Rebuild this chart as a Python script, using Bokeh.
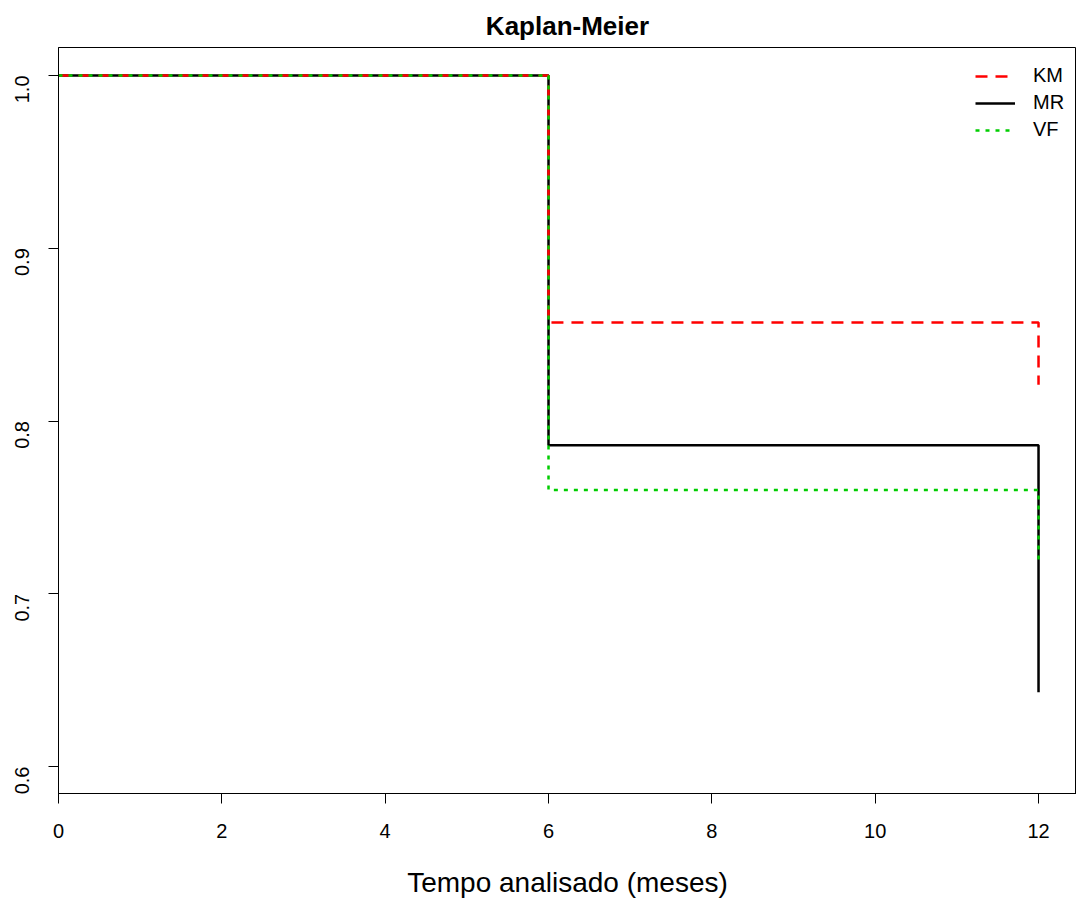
import math
from bokeh.plotting import figure
from bokeh.models import Range1d, FixedTicker, Legend, LegendItem
from bokeh.embed import file_html
from bokeh.resources import INLINE

# Data
times = [0, 6, 12]
km_surv = [1.0, 0.857, 0.821]
mr_surv = [1.0, 0.786, 0.643]
vf_surv = [1.0, 0.760, 0.719]
series_names = ["KM", "MR", "VF"]
x_ticks = [0, 2, 4, 6, 8, 10, 12]
y_ticks = [0.6, 0.7, 0.8, 0.9, 1.0]
y_tick_labels = ["0.6", "0.7", "0.8", "0.9", "1.0"]
title_text = "Kaplan-Meier"
x_label = "Tempo analisado (meses)"


def step_path(t, s):
    xs, ys = [t[0]], [s[0]]
    for i in range(1, len(t)):
        xs += [t[i], t[i]]
        ys += [s[i - 1], s[i]]
    return xs, ys


FONT = "Liberation Sans"

p = figure(width=1076, height=900, output_backend="svg", toolbar_location=None,
           x_range=Range1d(0, 12.465), y_range=Range1d(0.5844, 1.0162),
           min_border_left=58, min_border_right=0, min_border_top=47,
           min_border_bottom=107)

p.title.text = title_text
p.title.align = "center"
p.title.text_font = FONT
p.title.text_font_size = "26px"
p.title.text_font_style = "bold"
p.title.text_color = "black"
p.title.standoff = 14

p.grid.visible = False
p.outline_line_color = "black"
p.outline_line_width = 1
p.background_fill_color = "white"
p.border_fill_color = "white"

for ax in (p.xaxis[0], p.yaxis[0]):
    ax.axis_line_color = "black"
    ax.major_tick_line_color = "black"
    ax.major_tick_out = 10
    ax.major_tick_in = 0
    ax.minor_tick_line_color = None
    ax.major_label_text_font = FONT
    ax.major_label_text_font_size = "20px"
    ax.major_label_text_color = "black"

p.xaxis.ticker = FixedTicker(ticks=x_ticks)
p.xaxis.major_label_standoff = 20
p.xaxis.axis_label = x_label
p.xaxis.axis_label_text_font = FONT
p.xaxis.axis_label_text_font_size = "28px"
p.xaxis.axis_label_text_font_style = "normal"
p.xaxis.axis_label_text_color = "black"
p.xaxis.axis_label_text_line_height = 1.0
p.xaxis.axis_label_standoff = 26

p.yaxis.ticker = FixedTicker(ticks=y_ticks)
p.yaxis.major_label_overrides = {t: l for t, l in zip(y_ticks, y_tick_labels)}
p.yaxis.major_label_orientation = math.pi / 2
p.yaxis.major_label_standoff = 26

kx, ky = step_path(times, km_surv)
mx, my = step_path(times, mr_surv)
vx, vy = step_path(times, vf_surv)

r_mr = p.line(mx, my, line_color="black", line_width=2.5)
r_km = p.line(kx, ky, line_color="#FF0000", line_width=2.5, line_dash="12 8")
r_vf = p.line(vx, vy, line_color="#00CD00", line_width=2.5, line_dash="4 6")

legend = Legend(items=[LegendItem(label=series_names[0], renderers=[r_km]),
                       LegendItem(label=series_names[1], renderers=[r_mr]),
                       LegendItem(label=series_names[2], renderers=[r_vf])],
                location=(917, 652), padding=0, margin=0, spacing=4,
                glyph_width=40, glyph_height=20, label_height=20,
                label_standoff=18, label_text_font=FONT,
                label_text_font_size="20px", label_text_color="black",
                border_line_color=None, background_fill_alpha=0)
p.add_layout(legend, "center")

open("out.html", "w").write(file_html(p, INLINE))
